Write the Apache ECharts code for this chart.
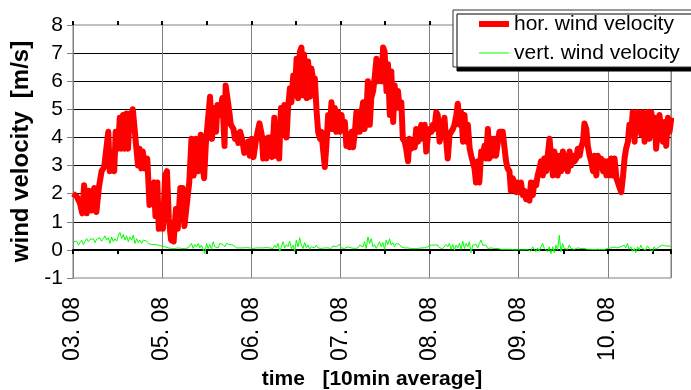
<!DOCTYPE html>
<html>
<head>
<meta charset="utf-8">
<script src="https://cdn.jsdelivr.net/npm/echarts@6/dist/echarts.min.js"></script>
<style>
  html, body { margin: 0; padding: 0; background: #fff; }
  #chart { width: 691px; height: 390px; }
</style>
</head>
<body>
<div id="chart"></div>
<script>
// day labels at the vertical grid lines (every 24 h)
const dayLabels = ['03. 08', '05. 08', '06. 08', '07. 08', '08. 08', '09. 08', '10. 08']

// horizontal wind velocity [m/s], time in hours from the first grid line
const horTime = [
  0.0, 1.0, 1.9, 2.5, 3.0, 3.7, 4.3, 5.0, 5.7, 6.3,
  7.0, 7.7, 8.4, 8.8, 9.5, 9.9, 10.6, 11.1, 11.5, 12.1,
  12.6, 13.0, 13.5, 13.9, 14.4, 14.8, 15.3, 15.7, 16.1, 16.6,
  17.0, 17.5, 17.9, 18.4, 18.8, 19.3, 20.0, 20.6, 21.1, 21.8,
  22.2, 22.7, 23.1, 23.6, 24.2, 24.8, 25.3, 25.8, 26.4, 27.1,
  27.7, 28.2, 28.9, 29.5, 30.0, 30.7, 31.3, 31.9, 32.5, 33.1,
  33.7, 34.4, 34.9, 35.3, 35.8, 36.2, 36.9, 37.4, 38.0, 38.5,
  38.9, 39.6, 40.2,
  40.8, 41.1, 41.5, 42.0, 42.5, 43.2, 43.6, 44.1, 44.5, 45.0,
  45.6, 46.1, 46.8, 47.2, 47.6, 48.1, 48.6, 49.2, 49.7, 50.2,
  50.8, 51.2, 51.7, 52.1, 52.6, 53.2, 53.6, 54.2, 54.5, 55.1,
  55.5, 56.0, 56.4, 56.9, 57.5, 57.9, 58.4, 58.8, 59.3, 59.7,
  60.2, 60.6, 61.1, 61.5, 62.0, 62.2, 62.9, 63.3, 63.8, 64.2,
  64.7, 65.1, 65.6, 66.0, 66.5, 66.9, 67.3, 67.8, 68.2, 68.7,
  69.1, 69.6, 70.0, 70.5, 70.9, 71.4, 71.8, 72.3, 72.7, 73.2,
  73.6, 74.1, 74.5, 75.0, 75.4, 75.9, 76.3, 76.8, 77.2, 77.6,
  78.1, 78.5, 79.0, 79.4,
  79.9, 80.3, 80.8, 81.2, 81.7, 82.1, 82.6, 83.0, 83.5, 83.9,
  84.4, 84.8, 85.3, 85.7, 86.2, 86.6, 87.0, 87.5, 87.9, 88.4,
  88.8, 89.3, 89.7, 90.2, 90.6, 91.1, 91.5, 92.0, 92.4, 92.9,
  93.3, 93.8, 94.2, 94.7, 95.1, 95.6, 96.0, 96.5, 96.9, 97.3,
  97.8, 98.2, 98.7, 99.1, 99.6, 100.0, 100.5, 100.9, 101.4, 101.8,
  102.3, 102.7, 103.2, 103.6, 104.1, 104.5, 105.0, 105.4, 105.9, 106.3,
  106.8, 107.2, 107.6, 108.1, 108.5, 109.0, 109.4, 109.9, 110.3, 110.8,
  111.2, 111.7, 112.1, 112.6, 113.0, 113.5, 113.9, 114.4, 114.8, 115.3,
  115.7, 116.2, 116.6, 117.0, 117.5, 117.9, 118.4, 118.8, 119.3,
  119.7, 120.2, 120.6, 121.1, 121.5, 122.0, 122.4, 122.9, 123.3, 123.8,
  124.2, 124.7, 125.1, 125.6, 126.0, 126.5, 126.9, 127.4, 127.8, 128.3,
  128.7, 129.2, 129.6, 130.1, 130.5, 131.0, 131.4, 131.9, 132.3, 132.8,
  133.2, 133.7, 134.1, 134.6, 135.0, 135.5, 135.9, 136.4, 136.8, 137.3,
  137.7, 138.2, 138.6, 139.1, 139.5, 140.0, 140.4, 140.9, 141.3, 141.8,
  142.2, 142.7, 143.1, 143.6, 144.0, 144.5, 144.9, 145.4, 145.8, 146.3,
  146.7, 147.2, 147.6, 148.1, 148.5, 148.9, 149.4, 149.8, 150.3, 150.7,
  151.2, 151.6, 152.1, 152.5, 153.0, 153.4, 153.9, 154.3, 154.8, 155.2,
  155.7, 156.1, 156.6, 157.0, 157.5, 157.9, 158.4, 158.8, 159.3, 159.7,
  160.2, 160.6, 161.1
]
const horSpeed = [
  2.0, 1.9, 1.65, 1.3, 2.3, 1.3, 2.1, 1.4, 2.2, 1.35,
  2.25, 2.8, 2.95, 3.4, 4.2, 2.8, 3.5, 2.8, 4.2, 3.6,
  4.7, 3.6, 4.8, 3.6, 4.85, 3.6, 4.85, 4.3, 5.0, 5.0,
  3.7, 3.0, 3.6, 2.9, 3.5, 2.9, 3.25, 1.6, 2.2, 2.4,
  1.2, 2.4, 0.75, 1.35, 0.75, 2.65, 2.8, 1.1, 0.35, 0.3,
  1.45, 0.75, 2.2, 2.2, 0.85, 1.7, 2.4, 3.95, 2.65, 3.95,
  2.8, 4.1, 3.0, 2.55, 3.85, 3.85, 5.45, 3.95, 5.05, 4.2,
  5.15, 4.8, 5.4,
  3.7, 5.85, 5.9, 5.0, 4.45, 4.3, 3.95, 4.15, 3.8, 4.2,
  3.9, 3.45, 3.6, 3.85, 3.35, 3.95, 3.3, 3.85, 4.2, 4.5,
  4.1, 3.25, 3.95, 3.25, 4.0, 4.0, 3.3, 4.7, 3.35, 4.45,
  3.25, 5.05, 4.1, 5.15, 4.0, 5.05, 5.75, 5.25, 6.2, 5.5,
  6.8, 5.4, 7.05, 7.2, 5.5, 6.95, 5.4, 6.7, 5.45, 6.45,
  6.0, 6.1, 4.9, 4.2, 3.95, 4.2, 3.6, 2.95, 3.7, 4.8,
  4.3, 5.25, 4.3, 5.05, 4.2, 4.9, 4.2, 4.8, 4.3, 4.55,
  3.7, 4.1, 3.65, 4.2, 3.65, 4.2, 4.9, 4.7, 4.2, 4.8,
  5.25, 4.3, 4.9, 6.0,
  4.45, 5.4, 5.65, 6.1, 6.8, 6.0, 6.6, 6.0, 7.2, 7.05,
  5.65, 6.6, 4.8, 6.35, 4.55, 5.85, 5.05, 5.65, 5.05, 5.25,
  3.95, 3.85, 3.6, 3.15, 3.95, 3.6, 3.85, 3.65, 4.3, 3.85,
  4.2, 4.45, 3.95, 4.45, 3.5, 4.1, 4.3, 4.2, 4.45, 4.3,
  4.9, 4.8, 3.85, 4.1, 4.45, 4.7, 3.85, 3.25, 4.1, 4.2,
  4.3, 4.45, 4.8, 5.2, 4.45, 4.9, 3.85, 4.8, 3.85, 4.45,
  3.6, 3.35, 3.15, 2.9, 2.4, 3.15, 2.4, 3.5, 3.35, 3.7,
  3.25, 4.3, 3.25, 3.95, 3.35, 3.95, 3.35, 3.85, 4.2, 4.25,
  4.2, 3.6, 3.15, 2.9, 2.8, 2.1, 2.55, 2.4, 2.05,
  2.4, 2.05, 2.4, 1.95, 2.1, 1.8, 2.05, 1.75, 2.4, 1.95,
  2.4, 2.3, 2.65, 2.9, 3.15, 2.65, 3.25, 2.8, 3.35, 3.95,
  3.35, 2.65, 3.5, 3.15, 2.65, 3.35, 2.8, 3.5, 2.9, 3.35,
  2.8, 3.5, 3.0, 3.35, 3.15, 3.25, 3.6, 3.35, 3.65, 3.85,
  4.5, 4.3, 3.7, 3.35, 3.15, 2.8, 3.35, 2.65, 3.35, 3.15,
  3.25, 2.8, 3.15, 2.65, 3.15, 2.65, 3.25, 2.65, 3.25, 2.55,
  2.4, 2.2, 2.05, 2.65, 3.25, 3.6, 3.85, 4.45, 4.2, 4.9,
  3.85, 4.8, 4.9, 4.9, 4.1, 4.9, 3.85, 4.7, 4.9, 3.95,
  4.9, 4.2, 4.7, 3.6, 4.45, 4.8, 4.2, 3.85, 4.55, 3.7,
  4.7, 4.2, 4.7
]

// vertical wind velocity [m/s], one reading per sample step
const vertSpeed = [
  0.29, 0.23, 0.31, 0.17, 0.26, 0.35, 0.19, 0.31, 0.40, 0.29,
  0.37, 0.31, 0.40, 0.26, 0.38, 0.33, 0.43, 0.31, 0.40, 0.50,
  0.35, 0.43, 0.23, 0.46, 0.29, 0.40, 0.31, 0.50, 0.62, 0.40,
  0.55, 0.35, 0.50, 0.29, 0.46, 0.35, 0.52, 0.23, 0.40, 0.26,
  0.35, 0.23, 0.35, 0.29, 0.31, 0.23, 0.29, 0.19, 0.26, 0.19,
  0.23, 0.17, 0.23, 0.14, 0.19, 0.11, 0.14, 0.07, 0.10, 0.05,
  0.02, 0.05, 0.02, 0.07, 0.02, 0.05, 0.08, 0.05, 0.11, 0.07,
  0.14, 0.23, 0.05, 0.19, 0.11, 0.23, 0.07, 0.17, 0.11, -0.13,
  0.23, 0.05, 0.19, 0.02, 0.29, 0.11, 0.17, 0.07, 0.23, 0.17,
  0.19, 0.11, 0.23, 0.29, 0.19, 0.26, 0.17, 0.11, 0.07, 0.05,
  0.07, 0.05, 0.07, 0.05, 0.08, 0.05, 0.07, 0.11, 0.05, 0.10,
  0.07, 0.05, 0.07, 0.05, 0.07, 0.05, 0.08, 0.05, 0.07, 0.11,
  0.05, 0.17, 0.07, 0.23, -0.05, 0.11, 0.29, 0.07, 0.19, 0.11,
  0.31, 0.05, 0.17, -0.07, 0.35, 0.11, 0.43, 0.17, 0.05, 0.26,
  0.07, 0.17, 0.02, 0.11, 0.05, 0.07, 0.17, 0.07, 0.11, 0.05,
  0.11, 0.07, 0.05, 0.07, 0.11, 0.05, 0.14, 0.07, 0.11, 0.05,
  0.19, 0.07, 0.11, 0.05, 0.07, 0.11, 0.05, 0.07, 0.11, 0.05,
  0.11, 0.07, 0.17, 0.23, 0.11, 0.29, 0.05, 0.46,
  0.23, 0.40, 0.11, 0.19, 0.05, 0.17, 0.29, 0.11, 0.26, 0.02,
  0.35, 0.19, 0.40, 0.17, 0.26, 0.11, 0.23, 0.17, 0.19, 0.11,
  0.14, 0.07, 0.14, 0.07, 0.11, 0.05, 0.07, 0.05, 0.10, 0.05,
  0.11, 0.07, 0.11, 0.07, 0.05, 0.11, 0.07, 0.17, 0.14, 0.17,
  0.11, 0.17, 0.07, 0.11, 0.05, 0.07, 0.19, 0.11, 0.23, 0.02,
  0.19, -0.01, 0.17, 0.07, 0.23, 0.02, 0.31, 0.05, 0.23, 0.11,
  0.29, -0.10, 0.17, 0.11, 0.19, 0.07, 0.23, 0.35, 0.17, 0.11,
  0.17, 0.05, 0.11, 0.07, 0.11, 0.05, 0.07, 0.05, 0.07, 0.02,
  0.05, 0.02, 0.05, 0.02, 0.05, 0.02, 0.05, 0.00, 0.02,
  0.01, 0.02, 0.00, 0.02, 0.00, 0.02, 0.01, 0.05, -0.05, 0.11,
  0.02, -0.07, 0.07, -0.05, 0.11, 0.23, 0.05, 0.07, -0.07, 0.11,
  -0.13, 0.11, -0.10, 0.17, -0.01, 0.52, -0.07, 0.23, 0.05, 0.11,
  0.02, 0.17, 0.05, 0.11, 0.02, 0.05, 0.07, 0.02, 0.05, 0.02,
  0.05, 0.00, 0.02, 0.00, 0.02, 0.00, 0.01, 0.00, 0.02, 0.00,
  0.01, 0.00, 0.01, 0.00, 0.05, 0.02, 0.07, 0.02, 0.10, 0.05,
  0.07, 0.02, 0.11, 0.05, 0.17, 0.07, 0.23, 0.02, 0.11, -0.05,
  0.05, -0.10, 0.11, -0.01, 0.17, 0.05, 0.11, -0.01, 0.14, 0.05,
  0.02, -0.07, 0.11, 0.02, 0.07, 0.11, 0.05, 0.17, 0.19, 0.14,
  0.19, 0.14, 0.11
]
const vertStartH = 0.1
const vertStepH = 0.448

const FONT = 'Liberation Sans, Arial, sans-serif'

const horData = horTime.map((t, i) => [t, horSpeed[i]])
const vertData = vertSpeed.map((v, i) => [vertStartH + i * vertStepH, v])

const chart = echarts.init(document.getElementById('chart'), null, { renderer: 'canvas' })

chart.setOption({
  animation: false,
  backgroundColor: '#fff',
  textStyle: { fontFamily: FONT },
  grid: {
    left: 73,
    right: 20,
    top: 25,
    bottom: 112,
    show: true,
    borderColor: '#808080',
    borderWidth: 1,
    outerBoundsMode: 'none'
  },
  legend: {
    orient: 'vertical',
    left: 453,
    top: 10,
    padding: [3, 20, 3, 23],
    itemWidth: 30,
    itemHeight: 14,
    itemGap: 7,
    backgroundColor: '#fff',
    borderColor: '#333',
    borderWidth: 1,
    shadowColor: '#000',
    shadowBlur: 0,
    shadowOffsetX: 4,
    shadowOffsetY: 4,
    textStyle: { fontSize: 21, color: '#000', lineHeight: 22, fontFamily: FONT },
    data: [
      { name: 'hor. wind velocity', itemStyle: { opacity: 0 }, lineStyle: { width: 6 } },
      { name: 'vert. wind velocity', itemStyle: { opacity: 0 }, lineStyle: { width: 1 } }
    ]
  },
  xAxis: [
    {
      type: 'value',
      min: 0,
      max: 161,
      interval: 24,
      position: 'bottom',
      axisLine: { show: false, onZero: false },
      axisTick: { show: false },
      axisLabel: {
        rotate: 90,
        fontSize: 23,
        color: '#000',
        margin: 19,
        formatter: (v) => dayLabels[Math.round(v / 24)] || ''
      },
      splitLine: { show: true, showMinLine: false, lineStyle: { color: '#808080', width: 1 } },
      name: 'time   [10min average]',
      nameLocation: 'middle',
      nameGap: 88,
      nameTextStyle: { fontSize: 21, fontWeight: 'bold', color: '#000', fontFamily: FONT }
    },
    {
      type: 'value',
      min: 0,
      max: 161,
      interval: 12,
      position: 'bottom',
      axisLine: { show: true, onZero: true, lineStyle: { color: '#000', width: 2 } },
      axisTick: { show: true, length: 4, lineStyle: { color: '#000', width: 2 } },
      axisLabel: { show: false },
      splitLine: { show: false }
    },
    {
      type: 'value',
      min: 0,
      max: 161,
      interval: 12,
      position: 'top',
      axisLine: { show: false, onZero: true },
      axisTick: { show: true, length: 4, lineStyle: { color: '#000', width: 2 } },
      axisLabel: { show: false },
      splitLine: { show: false }
    }
  ],
  yAxis: {
    type: 'value',
    min: -1,
    max: 8,
    interval: 1,
    axisLine: { show: true, lineStyle: { color: '#808080' } },
    axisTick: { show: true, length: 6, lineStyle: { color: '#808080' } },
    axisLabel: { fontSize: 21, color: '#000', margin: 10 },
    splitLine: { show: true, showMinLine: false, showMaxLine: false, lineStyle: { color: '#000', width: 1 } },
    name: 'wind velocity  [m/s]',
    nameLocation: 'middle',
    nameGap: 38,
    nameTextStyle: { fontSize: 24, fontWeight: 'bold', color: '#000', fontFamily: FONT }
  },
  series: [
    {
      name: 'hor. wind velocity',
      type: 'line',
      xAxisIndex: 0,
      data: horData,
      symbol: 'none',
      color: '#ff0000',
      lineStyle: { color: '#ff0000', width: 6, join: 'round' },
      z: 3
    },
    {
      name: 'vert. wind velocity',
      type: 'line',
      xAxisIndex: 0,
      data: vertData,
      symbol: 'none',
      color: '#00ff00',
      lineStyle: { color: '#00ff00', width: 1 },
      z: 4
    }
  ]
})

window.addEventListener('resize', () => {
  chart.resize()
})
</script>
</body>
</html>
